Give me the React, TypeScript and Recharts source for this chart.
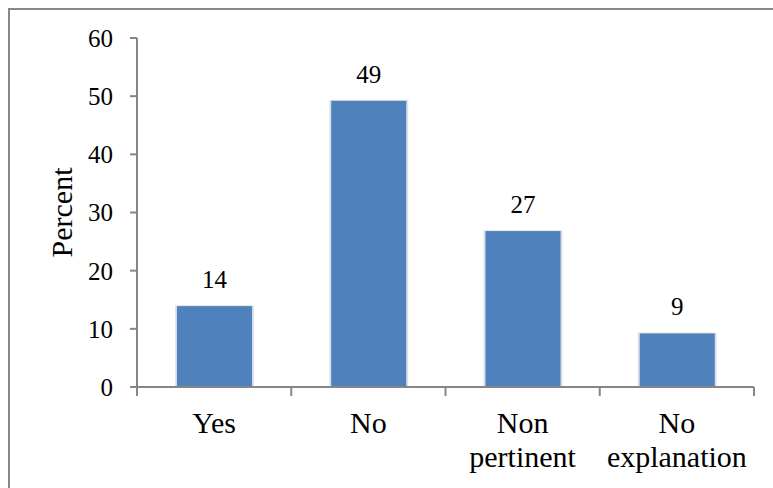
import React from 'react';
import { BarChart, Bar, XAxis, YAxis, LabelList, Label } from 'recharts';

const categories = ['Yes', 'No', 'Non pertinent', 'No explanation'];
const tickLines = [['Yes'], ['No'], ['Non', 'pertinent'], ['No', 'explanation']];
const percents = [13.9, 49.2, 26.8, 9.2];
const yTicks = [0, 10, 20, 30, 40, 50, 60];

const data = categories.map((name, i) => ({ name, value: percents[i], lines: tickLines[i] }));

const AXIS = '#868686';
const FONT = 'Liberation Serif, serif';

// category tick: boundary tick marks + multi-line label
const CategoryTick = (props: any) => {
  const { x, y, payload, index, visibleTicksCount } = props;
  const half = payload && payload.offset ? payload.offset : 0;
  const lines = tickLines[index] || [payload.value];
  const isLast = index === (visibleTicksCount ? visibleTicksCount - 1 : tickLines.length - 1);
  return (
    <g>
      <line x1={x - half} x2={x - half} y1={y} y2={y + 9} stroke={AXIS} strokeWidth={2} />
      {isLast && <line x1={x + half} x2={x + half} y1={y} y2={y + 9} stroke={AXIS} strokeWidth={2} />}
      <text x={x} y={y + 46} textAnchor="middle" fontSize={30} fill="#000" fontFamily={FONT}>
        {lines.map((l: string, i: number) => (
          <tspan key={i} x={x} dy={i === 0 ? 0 : 34}>{l}</tspan>
        ))}
      </text>
    </g>
  );
};

const ShadowBar = (props: any) => {
  const { x, y, width, height } = props;
  return (
    <g>
      <rect x={x - 2} y={y - 1} width={width + 4} height={height + 1} fill="#e3e3e3" />
      <rect x={x - 1} y={y} width={width + 2} height={height} fill="#cfdcec" />
      <rect x={x} y={y} width={width} height={height} fill="#4F81BD" />
    </g>
  );
};

const ValueLabel = (props: any) => {
  const { x, y, width, value } = props;
  return (
    <text x={x + width / 2} y={y - 18} textAnchor="middle" fontSize={25} fill="#000" fontFamily={FONT}>
      {Math.round(value)}
    </text>
  );
};

const App = () => {
  return (
    <div style={{ position: 'absolute', left: 0, top: 0, width: 773, height: 488, background: '#fff', fontFamily: FONT }}>
      <div style={{ position: 'absolute', left: 8, top: 8, width: 765, height: 480, borderTop: '2px solid #878787', borderLeft: '2px solid #878787', boxSizing: 'border-box' }} />
      <div style={{ position: 'absolute', left: 0, top: 0 }}>
        <BarChart width={773} height={488} data={data} margin={{ top: 38, right: 19, left: 77, bottom: 0 }}>
          <YAxis
            width={60}
            domain={[0, 60]}
            ticks={yTicks}
            interval={0}
            tickSize={7}
            tickMargin={17}
            axisLine={{ stroke: AXIS, strokeWidth: 2 }}
            tickLine={{ stroke: AXIS, strokeWidth: 2 }}
            tick={{ fill: '#000', fontSize: 25, fontFamily: FONT }}
          >
            <Label
              content={({ viewBox }: any) => {
                const cx = viewBox.x - 16;
                const cy = viewBox.y + viewBox.height / 2;
                return (
                  <text x={cx} y={cy} transform={`rotate(-90 ${cx} ${cy})`} textAnchor="middle" dominantBaseline="central" fontSize={30} fill="#000" fontFamily={FONT}>
                    Percent
                  </text>
                );
              }}
            />
          </YAxis>
          <XAxis
            dataKey="name"
            height={101}
            interval={0}
            tickSize={0}
            tickMargin={0}
            tickLine={false}
            axisLine={{ stroke: AXIS, strokeWidth: 2 }}
            tick={<CategoryTick />}
          />
          <Bar dataKey="value" barSize={75} shape={<ShadowBar />} isAnimationActive={false}>
            <LabelList dataKey="value" content={<ValueLabel />} />
          </Bar>
        </BarChart>
      </div>
    </div>
  );
};

export default App;
